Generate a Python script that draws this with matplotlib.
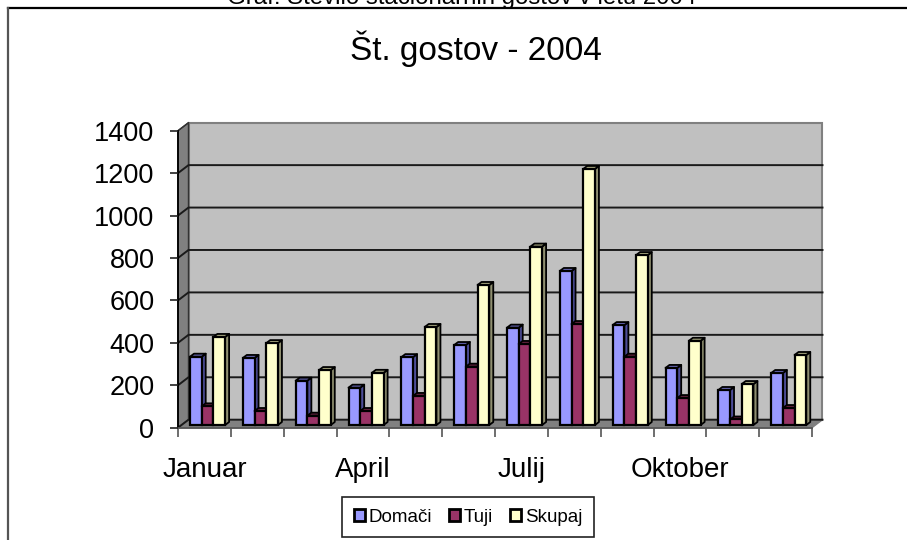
import matplotlib
matplotlib.use("Agg")
import matplotlib.pyplot as plt
from matplotlib.lines import Line2D

plt.rcParams['font.family'] = ['Liberation Sans', 'DejaVu Sans']

# Data
months = ['Januar', 'Februar', 'Marec', 'April', 'Maj', 'Junij', 'Julij',
          'Avgust', 'September', 'Oktober', 'November', 'December']
shown_months = ['Januar', 'April', 'Julij', 'Oktober']
domaci = [322, 316, 209, 176, 320, 377, 459, 726, 471, 269, 165, 245]
tuji = [88, 66, 44, 66, 137, 275, 382, 476, 322, 127, 26, 80]
skupaj = [415, 386, 259, 246, 462, 660, 841, 1207, 801, 397, 193, 330]
y_ticks = [0, 200, 400, 600, 800, 1000, 1200, 1400]

W, H = 907, 540
fig = plt.figure(figsize=(W / 100, H / 100), dpi=100)
ax = fig.add_axes([178 / W, 1 - 427.7 / H, 634 / W, 297 / H])
ax.set_xlim(0, 12)
ax.set_ylim(0, 1400)
ax.patch.set_alpha(0)

# pixel to data factors for the fake 3d depth
px_x = 12 / 634
px_y = 1400 / 297
dx, dy = 10.5 * px_x, 8 * px_y

# walls and floor
ax.fill([dx, 12 + dx, 12 + dx, dx], [dy, dy, 1400 + dy, 1400 + dy], fc='#c0c0c0',
        ec='#808080', lw=1.5, clip_on=False, zorder=0)
ax.fill([0, dx, dx, 0], [0, dy, 1400 + dy, 1400], fc='#808080', ec='#333333',
        lw=1, clip_on=False, zorder=0.5)
ax.fill([0, 12, 12 + dx, dx], [0, 0, dy, dy], fc='#808080', ec='#808080',
        lw=1, clip_on=False, zorder=0.5)

# gridlines on the back wall with the slanted part on the side wall
for v in y_ticks:
    if v == 1400:
        ax.plot([0, dx], [v, v + dy], color='#333333', lw=1, clip_on=False, zorder=1)
    else:
        ax.plot([0, dx, 12 + dx], [v, v + dy, v + dy], color='#1a1a1a', lw=1.4,
                clip_on=False, zorder=1)

bar_w = 11.7 * px_x
first = 12 * px_x
base = 2.7 * px_y
bx, by = 4 * px_x, 3 * px_y
x_left = list(range(12))

series = [
    ('Domači', domaci, '#9999ff', '#4d4d99', '#6666b3'),
    ('Tuji', tuji, '#993366', '#4d1a33', '#66223f'),
    ('Skupaj', skupaj, '#ffffcc', '#8f8f70', '#a8a880'),
]

for i, (name, vals, col, side, top) in enumerate(series):
    lefts = [m + first + i * bar_w for m in x_left]
    for l, v in zip(lefts, vals):
        r = l + bar_w
        t = base + v
        ax.fill([r, r + bx, r + bx, r], [base, base + by, t + by, t], fc=side,
                ec='black', lw=1.3, clip_on=False, zorder=2 + i, joinstyle='round')
        ax.fill([l, r, r + bx, l + bx], [t, t, t + by, t + by], fc=top,
                ec='black', lw=1.3, clip_on=False, zorder=2 + i, joinstyle='round')
    ax.bar(lefts, vals, width=bar_w, bottom=base, align='edge', color=col,
           edgecolor='black', linewidth=1.6, label=name, clip_on=False, zorder=2.5 + i)

# axes
for s in ['top', 'right']:
    ax.spines[s].set_visible(False)
ax.spines['left'].set_color('black')
ax.spines['left'].set_linewidth(1.3)
ax.spines['left'].set_zorder(1.5)
ax.spines['bottom'].set_color('#555555')
ax.spines['bottom'].set_linewidth(1.3)
ax.spines['bottom'].set_zorder(1.5)

ax.set_yticks(y_ticks)
ax.set_yticklabels([str(v) for v in y_ticks], fontsize=19.5, color='black')
ax.tick_params(axis='y', length=6, width=1.2, color='#222222', pad=11)

ax.set_xticks(range(13))
ax.set_xticklabels([])
ax.set_xticks([months.index(m) + 0.5 for m in shown_months], minor=True)
ax.set_xticklabels(shown_months, minor=True, fontsize=20)
ax.tick_params(axis='x', which='major', length=6.7, width=1.2, color='#555555')
ax.tick_params(axis='x', which='minor', length=0, pad=21)

# titles
fig.text(476 / W, 1 - 49 / H, 'Št. gostov - 2004', fontsize=24, ha='center', va='center')
fig.text(462 / W, 1 - 4 / H, 'Graf: Število stacionarnih gostov v letu 2004', fontsize=17.3,
         ha='center', va='baseline')

# frame of the pasted chart
fig.add_artist(Line2D([8 / W, 1], [1 - 7.5 / H, 1 - 7.5 / H], color='black', lw=1.6))
fig.add_artist(Line2D([8 / W, 8 / W], [1 - 7.5 / H, 0], color='#555555', lw=1.6))

leg = ax.legend(loc='center', bbox_to_anchor=(468 / W, 1 - 517 / H),
                bbox_transform=fig.transFigure, ncol=3, fontsize=13.5, fancybox=False,
                framealpha=1, edgecolor='#222222', handlelength=0.6, handleheight=0.6,
                handletextpad=0.2, columnspacing=0.9, borderpad=0.6, borderaxespad=0)
leg.get_frame().set_linewidth(1.2)
for h in leg.legend_handles:
    h.set_linewidth(2)
leg.set_zorder(10)

fig.savefig('out.png', dpi=100)
